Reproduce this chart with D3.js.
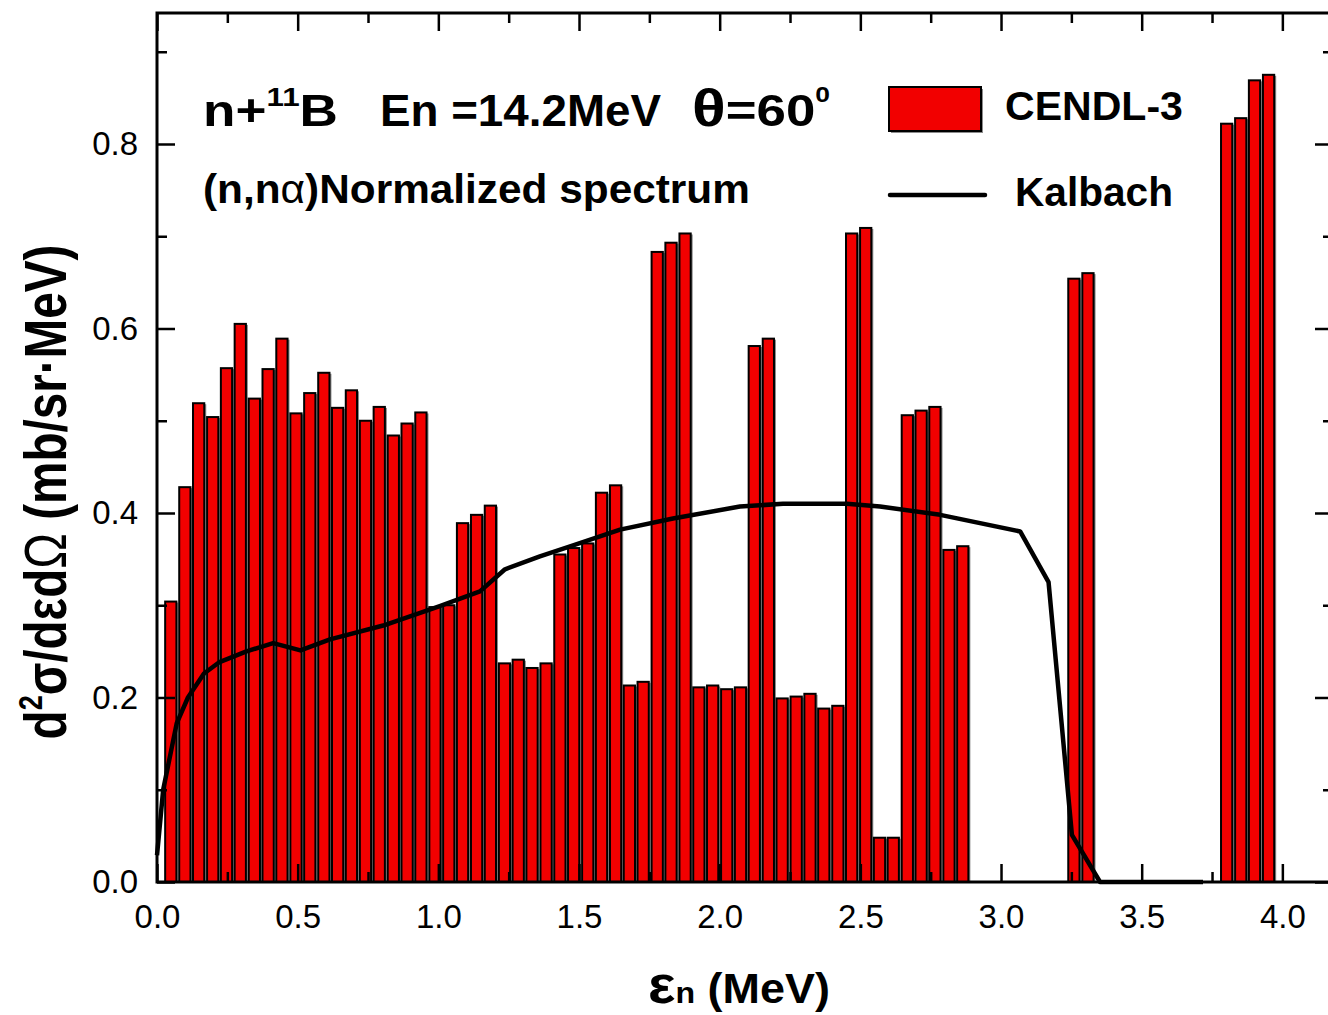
<!DOCTYPE html>
<html>
<head>
<meta charset="utf-8">
<script src="https://cdn.jsdelivr.net/npm/d3@7"></script>
<style>
  body { margin: 0; background: #fff; }
  svg { display: block; }
  text { font-family: "Liberation Sans", Arial, sans-serif; fill: #000; }
</style>
</head>
<body>
<div id="chart"></div>
<script>
// centres des canaux en énergie (MeV)
const energy = [
  0.049, 0.099, 0.148, 0.198, 0.247, 0.296, 0.346, 0.395, 0.444, 0.494,
  0.543, 0.593, 0.642, 0.691, 0.741, 0.790, 0.840, 0.889, 0.938, 0.988,
  1.037, 1.086, 1.136, 1.185, 1.235, 1.284, 1.333, 1.383, 1.432, 1.481,
  1.531, 1.580, 1.630, 1.679, 1.728, 1.778, 1.827, 1.877, 1.926, 1.975,
  2.025, 2.074, 2.123, 2.173, 2.222, 2.272, 2.321, 2.370, 2.420, 2.469,
  2.519, 2.568, 2.617, 2.667, 2.716, 2.765, 2.815, 2.864, 2.914, 2.963,
  3.012, 3.062, 3.111, 3.160, 3.210, 3.259, 3.309, 3.358, 3.407, 3.457,
  3.506, 3.556, 3.605, 3.654, 3.704, 3.753, 3.802, 3.852, 3.901, 3.951
];

// CENDL-3 (mb/sr.MeV)
const cendl = [
  0.304, 0.428, 0.519, 0.504, 0.557, 0.605, 0.524, 0.556, 0.589, 0.508,
  0.530, 0.552, 0.514, 0.533, 0.500, 0.515, 0.484, 0.497, 0.509, 0.298,
  0.300, 0.389, 0.398, 0.408, 0.237, 0.241, 0.232, 0.237, 0.355, 0.362,
  0.367, 0.422, 0.430, 0.213, 0.217, 0.683, 0.693, 0.703, 0.211, 0.213,
  0.209, 0.211, 0.581, 0.589, 0.199, 0.201, 0.204, 0.188, 0.191, 0.703,
  0.709, 0.048, 0.048, 0.506, 0.511, 0.515, 0.360, 0.364, 0, 0,
  0, 0, 0, 0, 0, 0.654, 0.660, 0, 0, 0,
  0, 0, 0, 0, 0, 0, 0.822, 0.828, 0.869, 0.875
];

// courbe Kalbach
const kalbachE = [0.000, 0.022, 0.070, 0.110, 0.167, 0.220, 0.318, 0.413, 0.510, 0.615,
  0.804, 1.005, 1.148, 1.237, 1.361, 1.479, 1.646, 1.834, 2.072, 2.225,
  2.452, 2.570, 2.784, 3.068, 3.169, 3.252, 3.352, 3.718];
const kalbachV = [0.029, 0.100, 0.172, 0.200, 0.226, 0.238, 0.250, 0.259, 0.251, 0.263,
  0.278, 0.299, 0.315, 0.339, 0.353, 0.365, 0.382, 0.394, 0.407, 0.410,
  0.410, 0.407, 0.398, 0.380, 0.325, 0.051, 0.000, 0.000];

// graduations
const xTicks = [0, 0.5, 1.0, 1.5, 2.0, 2.5, 3.0, 3.5, 4.0];
const xTickLabels = ["0.0", "0.5", "1.0", "1.5", "2.0", "2.5", "3.0", "3.5", "4.0"];
const xMinor = [0.25, 0.75, 1.25, 1.75, 2.25, 2.75, 3.25, 3.75];
const yTicks = [0, 0.2, 0.4, 0.6, 0.8];
const yTickLabels = ["0.0", "0.2", "0.4", "0.6", "0.8"];
const yMinor = [0.1, 0.3, 0.5, 0.7, 0.9];

//---------------------------------------------------------------------------------------

const W = 1328, H = 1015;

const svg = d3.select("#chart")
  .append("svg")
  .attr("width", W)
  .attr("height", H);

const x = d3.scaleLinear().domain([0, 4.18]).range([157, 1333]);
const y = d3.scaleLinear().domain([0, 0.942]).range([882, 13]);

// largeur des barres : 80% de l'écart entre canaux
const step = x(energy[1]) - x(energy[0]);
const barW = step * 0.8;

const bars = energy.map((e, i) => ({ e: e, v: cendl[i] })).filter(d => d.v > 0);

// ombre grise
svg.append("g")
  .selectAll("rect")
  .data(bars)
  .join("rect")
  .attr("x", d => x(d.e) - barW / 2 + 2)
  .attr("y", d => y(d.v) + 1)
  .attr("width", barW)
  .attr("height", d => y(0) - y(d.v) - 1)
  .attr("fill", "#8c8c8c");

// barres CENDL-3
svg.append("g")
  .selectAll("rect")
  .data(bars)
  .join("rect")
  .attr("x", d => x(d.e) - barW / 2)
  .attr("y", d => y(d.v))
  .attr("width", barW)
  .attr("height", d => y(0) - y(d.v))
  .attr("fill", "#f20000")
  .attr("stroke", "#000")
  .attr("stroke-width", 2);

// courbe Kalbach
const line = d3.line()
  .x(d => x(d[0]))
  .y(d => y(d[1]));

svg.append("path")
  .attr("d", line(kalbachE.map((e, i) => [e, kalbachV[i]])))
  .attr("fill", "none")
  .attr("stroke", "#000")
  .attr("stroke-width", 4.5)
  .attr("stroke-linejoin", "round");

//---------------------------------------------------------------------------------------

// axes (graduations vers l'intérieur)
function drawAxis(axis, tx, ty, withLabels) {
  const g = svg.append("g")
    .attr("transform", `translate(${tx},${ty})`)
    .call(axis);
  g.select(".domain").remove();
  g.selectAll(".tick line").attr("stroke", "#000").attr("stroke-width", 2.5);
  if (withLabels) {
    g.selectAll("text")
      .attr("font-family", "'Liberation Sans', Arial, sans-serif")
      .attr("font-size", 33)
      .attr("fill", "#000");
  }
  return g;
}

drawAxis(d3.axisBottom(x).tickValues(xTicks).tickSize(-18).tickPadding(23)
  .tickFormat((d, i) => xTickLabels[i]), 0, y(0), true);
drawAxis(d3.axisBottom(x).tickValues(xMinor).tickSize(-10).tickFormat(""), 0, y(0), false);
drawAxis(d3.axisTop(x).tickValues(xTicks).tickSize(-18).tickFormat(""), 0, 13, false);
drawAxis(d3.axisTop(x).tickValues(xMinor).tickSize(-10).tickFormat(""), 0, 13, false);

drawAxis(d3.axisLeft(y).tickValues(yTicks).tickSize(-18).tickPadding(19)
  .tickFormat((d, i) => yTickLabels[i]), 157, 0, true);
drawAxis(d3.axisLeft(y).tickValues(yMinor).tickSize(-10).tickFormat(""), 157, 0, false);
drawAxis(d3.axisRight(y).tickValues(yTicks).tickSize(-18).tickFormat(""), 1333, 0, false);
drawAxis(d3.axisRight(y).tickValues(yMinor).tickSize(-10).tickFormat(""), 1333, 0, false);

// cadre
svg.append("rect")
  .attr("x", 157)
  .attr("y", 13)
  .attr("width", 1333 - 157)
  .attr("height", 882 - 13)
  .attr("fill", "none")
  .attr("stroke", "#000")
  .attr("stroke-width", 3);

//---------------------------------------------------------------------------------------

// textes : on ajuste la largeur pour coller au graphique d'origine
function fit(text, width) {
  const w = text.node().getComputedTextLength();
  text.attr("transform", `scale(${width / w},1)`);
}

function block(tx, ty, size, rot) {
  return svg.append("g")
    .attr("transform", `translate(${tx},${ty})` + (rot ? ` rotate(${rot})` : ""))
    .append("text")
    .attr("font-size", size)
    .attr("font-weight", "bold");
}

// titre
let t = block(203, 126, 44);
t.append("tspan").text("n+");
t.append("tspan").attr("font-size", 26).attr("dy", -20).text("11");
t.append("tspan").attr("dy", 20).text("B");
fit(t, 135);

t = block(380, 126, 44).text("En =14.2MeV");
fit(t, 281);

t = block(692, 126, 44);
t.append("tspan").attr("font-size", 52).text("θ");
t.append("tspan").text("=60");
t.append("tspan").attr("font-size", 22).attr("dy", -24).text("0");
fit(t, 138);

t = block(203, 203, 40);
t.append("tspan").text("(n,n");
t.append("tspan").attr("font-weight", "normal").text("α");
t.append("tspan").text(")Normalized spectrum");
fit(t, 547);

// légende
svg.append("rect")
  .attr("x", 891).attr("y", 89).attr("width", 92).attr("height", 44)
  .attr("fill", "#8c8c8c");
svg.append("rect")
  .attr("x", 889).attr("y", 87).attr("width", 92).attr("height", 44)
  .attr("fill", "#f20000").attr("stroke", "#000").attr("stroke-width", 2);
t = block(1005, 120, 40).text("CENDL-3");
fit(t, 178);

svg.append("line")
  .attr("x1", 890).attr("x2", 985).attr("y1", 195).attr("y2", 195)
  .attr("stroke", "#000").attr("stroke-width", 4.5).attr("stroke-linecap", "round");
t = block(1015, 206, 40).text("Kalbach");
fit(t, 158);

// titre axe Y
t = block(66, 492, 60, -90).attr("text-anchor", "middle");
t.append("tspan").text("d");
t.append("tspan").attr("font-size", 34).attr("dy", -24).text("2");
t.append("tspan").attr("dy", 24).text("σ/dεd");
t.append("tspan").attr("font-weight", "normal").text("Ω");
t.append("tspan").text(" (mb/sr·MeV)");
fit(t, 495);

// titre axe X
t = block(648, 1003, 42);
t.append("tspan").attr("font-size", 54).text("ε");
t.append("tspan").attr("font-size", 30).text("n");
t.append("tspan").text(" (MeV)");
fit(t, 182);
</script>
</body>
</html>
